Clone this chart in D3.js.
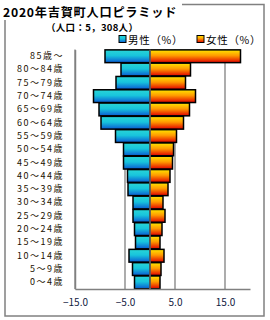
<!DOCTYPE html>
<html><head><meta charset="utf-8">
<script src="https://cdn.jsdelivr.net/npm/d3@7"></script>
<style>body{margin:0;background:#fff}svg{display:block}</style>
</head><body>
<script>
const categories = ["85歳〜","80〜84歳","75〜79歳","70〜74歳","65〜69歳","60〜64歳","55〜59歳","50〜54歳","45〜49歳","40〜44歳","35〜39歳","30〜34歳","25〜29歳","20〜24歳","15〜19歳","10〜14歳","5〜9歳","0〜4歳"];
const male = [9.0,5.8,6.8,11.3,10.2,9.8,6.9,5.3,5.3,4.5,4.4,3.4,3.4,3.1,2.9,4.2,3.5,3.1];
const female = [18.1,8.1,7.1,9.1,7.9,6.7,5.3,4.7,4.5,4.0,3.6,2.6,3.0,2.4,2.0,2.8,2.2,2.0];
const tickValues = [-15,-5,5,15];
const tickLabels = ["−15.0","−5.0","5.0","15.0"];
const title = "2020年吉賀町人口ピラミッド";
const subtitle = "（人口：5，308人）";
const legendLabels = ["男性（%）","女性（%）"];

const W=270,H=320;
const svg=d3.select("body").append("svg").attr("width",W).attr("height",H);
const defs=svg.append("defs");
const gm=defs.append("linearGradient").attr("id","gm").attr("x1",0).attr("y1",0).attr("x2",0).attr("y2",1);
gm.append("stop").attr("offset","0%").attr("stop-color","#2ad6d6");
gm.append("stop").attr("offset","45%").attr("stop-color","#18c4dc");
gm.append("stop").attr("offset","100%").attr("stop-color","#0a5ad2");
const gf=defs.append("linearGradient").attr("id","gf").attr("x1",0).attr("y1",0).attr("x2",0).attr("y2",1);
gf.append("stop").attr("offset","0%").attr("stop-color","#ffe600");
gf.append("stop").attr("offset","45%").attr("stop-color","#ff9a00");
gf.append("stop").attr("offset","100%").attr("stop-color","#e00000");

const font="'Noto Sans CJK JP','Noto Sans',sans-serif";
// frame
svg.append("rect").attr("x",5).attr("y",4.5).attr("width",259).attr("height",311.5)
  .attr("fill","none").attr("stroke","#808080").attr("stroke-width",1.5);
svg.append("rect").attr("x",0).attr("y",0).attr("width",182).attr("height",20).attr("fill","#fff");
svg.append("text").attr("x",3).attr("y",16.5).attr("font-family",font).attr("font-weight","bold")
  .attr("font-size",12.2).attr("letter-spacing",0.75).attr("fill","#000").text(title);
svg.append("text").attr("x",46).attr("y",31).attr("font-family",font).attr("font-weight","bold")
  .attr("font-size",9.5).attr("letter-spacing",0.3).attr("fill","#000").text(subtitle);

const x=d3.scaleLinear().domain([-15,20]).range([75,250]);
const y=d3.scaleBand().domain(categories).range([49.6,289]).paddingInner(0.04).paddingOuter(0.02);

// grid
svg.append("g").selectAll("line").data(tickValues.concat([0])).join("line")
  .attr("x1",d=>x(d)).attr("x2",d=>x(d)).attr("y1",49.6).attr("y2",289)
  .attr("stroke","#808080").attr("stroke-width",1.3);

// bars
svg.append("g").selectAll("rect").data(categories).join("rect")
  .attr("x",(d,i)=>x(-male[i])).attr("y",d=>y(d)).attr("width",(d,i)=>x(0)-x(-male[i]))
  .attr("height",y.bandwidth()).attr("fill","url(#gm)").attr("stroke","#000").attr("stroke-width",1.5);
svg.append("g").selectAll("rect").data(categories).join("rect")
  .attr("x",x(0)).attr("y",d=>y(d)).attr("width",(d,i)=>x(female[i])-x(0))
  .attr("height",y.bandwidth()).attr("fill","url(#gf)").attr("stroke","#000").attr("stroke-width",1.5);
// center line over bars
svg.append("line").attr("x1",x(0)).attr("x2",x(0)).attr("y1",49.6).attr("y2",289)
  .attr("stroke","#808080").attr("stroke-width",1.3);

// axes lines
const xa=svg.append("g").attr("transform","translate(0,289)")
  .call(d3.axisBottom(x).tickValues(tickValues).tickSize(0).tickFormat((d,i)=>tickLabels[i]));
xa.select(".domain").attr("stroke","#808080").attr("stroke-width",1.5);
xa.selectAll("text").attr("font-family",font).attr("font-size",10).attr("fill","#102040").attr("dy","1.4em");
const ya=svg.append("g").attr("transform","translate(75,0)")
  .call(d3.axisLeft(y).tickSize(0).tickPadding(11));
ya.select(".domain").attr("stroke","#808080").attr("stroke-width",1.5);
ya.selectAll("text").attr("font-family",font).attr("font-size",9).attr("letter-spacing",1.5).attr("fill","#1a1000");

// legend
const lg=svg.append("g");
[["url(#gm)",119,legendLabels[0]],["url(#gf)",197,legendLabels[1]]].forEach(([f,lx,t])=>{
  lg.append("rect").attr("x",lx).attr("y",35.5).attr("width",7).attr("height",7).attr("fill",f).attr("stroke","#000").attr("stroke-width",1);
  lg.append("text").attr("x",lx+9).attr("y",43.5).attr("font-family",font).attr("font-size",10.5).attr("letter-spacing",0.7).attr("fill","#000").text(t);
});
</script>
</body></html>
